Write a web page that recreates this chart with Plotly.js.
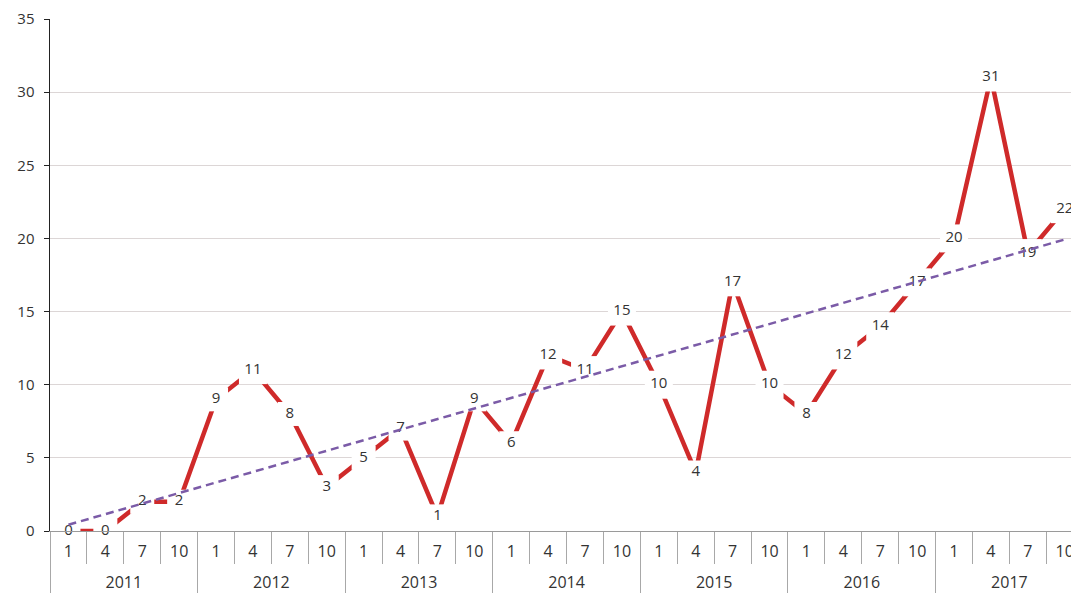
<!DOCTYPE html>
<html>
<head>
<meta charset="utf-8">
<script src="https://cdn.plot.ly/plotly-3.0.1.min.js"></script>
<style>
  html, body { margin: 0; padding: 0; background: #fff; }
  #chart { width: 1071px; height: 593px; }
</style>
</head>
<body>
<div id="chart"></div>
<script>
// Quarterly counts, 2011–2017 (months 1, 4, 7, 10 of each year)
const years = ['2011', '2012', '2013', '2014', '2015', '2016', '2017'];
const months = ['1', '4', '7', '10'];
const counts = [
  0, 0, 2, 2,
  9, 11, 8, 3,
  5, 7, 1, 9,
  6, 12, 11, 15,
  10, 4, 17, 10,
  8, 12, 14, 17,
  20, 31, 19, 22
];

// Category index positions and their month labels
const idx = counts.map((_, i) => i);
const monthText = idx.map(i => months[i % months.length]);
const yearCenters = years.map((_, k) => k * months.length + (months.length - 1) / 2);

// Least-squares linear trend over the series
const n = counts.length;
const mx = idx.reduce((a, b) => a + b, 0) / n;
const my = counts.reduce((a, b) => a + b, 0) / n;
let sxy = 0, sxx = 0;
idx.forEach(i => { sxy += (i - mx) * (counts[i] - my); sxx += (i - mx) * (i - mx); });
const slope = sxy / sxx;
const intercept = my - slope * mx;
const trendX = [idx[0], idx[n - 1]];
const trendY = trendX.map(x => intercept + slope * x);

const FONT = '"Open Sans", "Noto Sans", sans-serif';
const xRange = [-0.5, 27.17];

// Red series: white square backdrops under each value label break the line
const series = {
  x: idx,
  y: counts,
  type: 'scatter',
  mode: 'lines+markers+text',
  line: { color: '#cf2a2a', width: 4.5 },
  marker: {
    symbol: 'square',
    color: '#ffffff',
    opacity: 1,
    size: counts.map(v => String(v).length > 1 ? 28 : 24),
    line: { width: 0 }
  },
  text: counts.map(String),
  textposition: 'middle center',
  textfont: { family: FONT, size: 15, color: '#333' },
  cliponaxis: false,
  hoverinfo: 'skip',
  xaxis: 'x',
  yaxis: 'y'
};

const trend = {
  x: trendX,
  y: trendY,
  type: 'scatter',
  mode: 'lines',
  line: { color: '#7b5ba7', width: 2.5, dash: '8px,5px' },
  hoverinfo: 'skip',
  cliponaxis: false,
  xaxis: 'x2',
  yaxis: 'y'
};

const layout = {
  width: 1071,
  height: 593,
  margin: { l: 50, r: 0, t: 19, b: 62 },
  paper_bgcolor: '#ffffff',
  plot_bgcolor: '#ffffff',
  showlegend: false,
  font: { family: FONT, color: '#333' },
  xaxis: {
    range: xRange,
    tickmode: 'array',
    tickvals: idx,
    ticktext: monthText,
    ticks: 'outside',
    ticklen: 6,
    tickcolor: 'rgba(0,0,0,0)',
    tickfont: { family: FONT, size: 16, color: '#333' },
    ticklabeloverflow: 'allow',
    showgrid: false,
    zeroline: false,
    showline: true,
    linecolor: '#9a9a9a',
    linewidth: 1,
    minor: {
      tickmode: 'linear',
      tick0: -0.5,
      dtick: 1,
      ticks: 'outside',
      ticklen: 32,
      tickwidth: 1,
      tickcolor: '#a8a8a8',
      showgrid: false
    },
    fixedrange: true
  },
  xaxis2: {
    overlaying: 'x',
    anchor: 'y',
    side: 'bottom',
    range: xRange,
    tickmode: 'array',
    tickvals: yearCenters,
    ticktext: years,
    ticks: 'outside',
    ticklen: 37,
    tickcolor: 'rgba(0,0,0,0)',
    tickfont: { family: FONT, size: 16, color: '#333' },
    showgrid: false,
    zeroline: false,
    showline: false,
    minor: {
      tickmode: 'linear',
      tick0: -0.5,
      dtick: 4,
      ticks: 'outside',
      ticklen: 62,
      tickwidth: 1,
      tickcolor: '#a8a8a8',
      showgrid: false
    },
    fixedrange: true
  },
  yaxis: {
    range: [0, 35],
    tickmode: 'linear',
    tick0: 0,
    dtick: 5,
    ticks: 'outside',
    ticklen: 5,
    tickcolor: '#222',
    tickfont: { family: FONT, size: 15, color: '#333' },
    ticklabelstandoff: 6,
    showgrid: true,
    gridcolor: '#dcd6d6',
    gridwidth: 1,
    zeroline: false,
    showline: true,
    linecolor: '#222',
    linewidth: 1.5,
    fixedrange: true
  }
};

Plotly.newPlot('chart', [series, trend], layout, { displayModeBar: false, staticPlot: true });
</script>
</body>
</html>
